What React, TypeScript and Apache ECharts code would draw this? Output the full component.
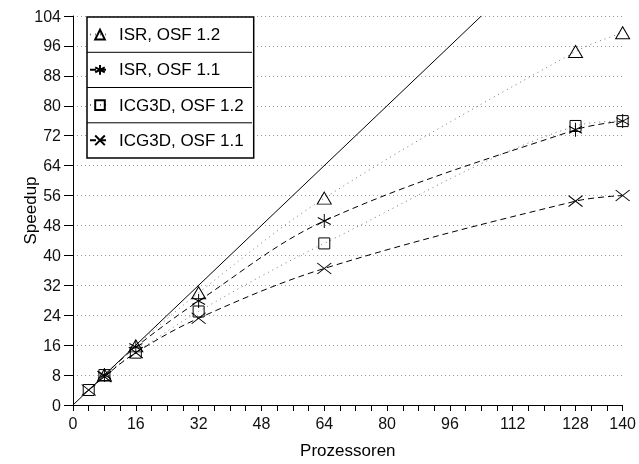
import { useEffect, useRef } from 'react';
import * as echarts from 'echarts';

const procs = [4, 8, 16, 32, 64, 128, 140];
const isr12: (number | null)[] = [null, 8, 15.8, 30, 55.3, 94.5, 99.5];
const isr11: (number | null)[] = [null, 8, 15.5, 27.8, 49.2, 73.6, 75.9];
const icg12: (number | null)[] = [4, 8, 14, 25, 43.2, 74.6, 75.9];
const icg11: (number | null)[] = [4, 7.6, 14, 23.2, 36.5, 54.5, 56];
const idealX = [0, 104];
const names = ['ISR, OSF 1.2', 'ISR, OSF 1.1', 'ICG3D, OSF 1.2', 'ICG3D, OSF 1.1'];
const xLabelStep = 16;
const xMax = 140;

const FONT = 'Liberation Sans, Arial, sans-serif';
const STAR = 'path://M0,-1L0,1M-0.866,-0.5L0.866,0.5M-0.866,0.5L0.866,-0.5';
const CROSS = 'path://M-1,-1L1,1M-1,1L1,-1';

function pairs(vals: (number | null)[]) {
  const out: number[][] = [];
  procs.forEach((p, i) => {
    const v = vals[i];
    if (v !== null) out.push([p, v]);
  });
  return out;
}

export default function App() {
  const ref = useRef<HTMLDivElement>(null);
  useEffect(() => {
    if (!ref.current) return;
    const chart = echarts.init(ref.current, undefined, { renderer: 'svg' });
    const mk = (name: string, vals: (number | null)[], symbol: string, size: any, dotted: boolean) => ({
      name,
      type: 'line',
      data: pairs(vals),
      smooth: 0.35,
      symbol,
      symbolSize: size,
      lineStyle: dotted
        ? { color: '#777', width: 1, type: [1, 4] }
        : { color: '#000', width: 1, type: [6, 4] },
      itemStyle: { color: 'rgba(0,0,0,0)', borderColor: '#000', borderWidth: 1 },
      z: 3,
    });
    chart.setOption({
      animation: false,
      grid: { left: 73, right: 15, top: 16, bottom: 58 },
      legend: {
        orient: 'vertical',
        left: 87,
        top: 17,
        data: names,
        itemWidth: 20,
        itemHeight: 12,
        itemGap: 15.25,
        padding: [7.6, 10, 7.6, 2],
        borderColor: '#000',
        borderWidth: 1.5,
        backgroundColor: '#fff',
        selectedMode: false,
        textStyle: { fontFamily: FONT, fontSize: 17, color: '#000', lineHeight: 20, padding: [0, 0, 0, 4] },
        z: 5,
      },
      xAxis: {
        type: 'value',
        min: 0,
        max: xMax,
        interval: 4,
        name: 'Prozessoren',
        nameLocation: 'middle',
        nameGap: 37,
        nameMoveOverlap: false,
        nameTextStyle: { fontFamily: FONT, fontSize: 17, color: '#000' },
        axisLine: { lineStyle: { color: '#000', width: 1 } },
        axisTick: { length: 6, lineStyle: { color: '#000' } },
        axisLabel: {
          fontFamily: FONT,
          fontSize: 16,
          color: '#111',
          margin: 10,
          hideOverlap: false,
          formatter: (v: number) => (v % xLabelStep === 0 || v === xMax ? String(v) : ''),
        },
        splitLine: { show: false },
      },
      yAxis: {
        type: 'value',
        min: 0,
        max: 104,
        interval: 8,
        name: 'Speedup',
        nameLocation: 'middle',
        nameGap: 34,
        nameMoveOverlap: false,
        nameTextStyle: { fontFamily: FONT, fontSize: 17, color: '#000' },
        axisLine: { show: true, lineStyle: { color: '#000', width: 1 } },
        axisTick: { show: true, length: 9, lineStyle: { color: '#000' } },
        axisLabel: { fontFamily: FONT, fontSize: 16, color: '#111', margin: 12 },
        splitLine: { show: true, lineStyle: { color: '#999', width: 1, type: [1, 3] } },
      },
      graphic: [
        { type: 'line', z: 100, shape: { x1: 87, y1: 52.3, x2: 252, y2: 52.3 }, style: { stroke: '#000', lineWidth: 1 } },
        { type: 'line', z: 100, shape: { x1: 87, y1: 87.5, x2: 252, y2: 87.5 }, style: { stroke: '#000', lineWidth: 1 } },
        { type: 'line', z: 100, shape: { x1: 87, y1: 122.8, x2: 252, y2: 122.8 }, style: { stroke: '#000', lineWidth: 1 } },
      ],
      series: [
        {
          name: 'ideal',
          type: 'line',
          data: idealX.map((v) => [v, v]),
          symbol: 'none',
          lineStyle: { color: '#000', width: 1 },
          z: 2,
        },
        mk(names[0], isr12, 'triangle', [14, 12], true),
        mk(names[1], isr11, STAR, [13, 14], false),
        mk(names[2], icg12, 'rect', 11, true),
        mk(names[3], icg11, CROSS, [14, 11], false),
      ],
    });
    return () => chart.dispose();
  }, []);
  return <div ref={ref} style={{ position: 'fixed', left: 0, top: 0, width: 639, height: 464 }} />;
}
